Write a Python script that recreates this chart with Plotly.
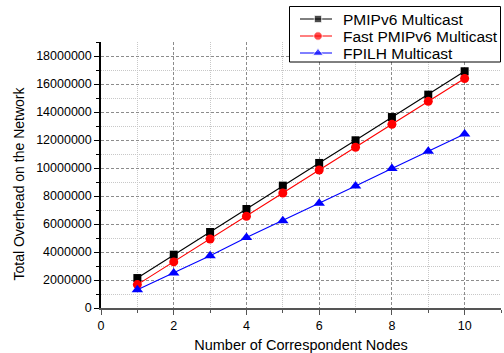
import plotly.graph_objects as go

x_nodes = [1, 2, 3, 4, 5, 6, 7, 8, 9, 10]
pmipv6 = [2140000, 3810000, 5430000, 7070000, 8740000, 10360000, 11980000, 13640000, 15240000, 16910000]
fast_pmipv6 = [1670000, 3290000, 4930000, 6550000, 8210000, 9860000, 11480000, 13120000, 14760000, 16390000]
fpilh = [1310000, 2500000, 3740000, 5030000, 6240000, 7480000, 8710000, 9960000, 11190000, 12430000]

names = ["PMIPv6 Multicast", "Fast PMIPv6 Multicast", "FPILH Multicast"]
colors = ["#000000", "#ff0000", "#0000ff"]
symbols = ["square", "circle", "triangle-up"]
msizes = [8, 9, 10]
leg_msizes = [7.5, 8.5, 9.5]

x_ticks = [0, 2, 4, 6, 8, 10]
x_minor = [1, 3, 5, 7, 9, 11]
y_ticks = [0, 2000000, 4000000, 6000000, 8000000, 10000000, 12000000, 14000000, 16000000, 18000000]
y_ticklabels = ["0", "2000000", "4000000", "6000000", "8000000", "10000000",
                "12000000", "14000000", "16000000", "18000000"]
y_minor = [1000000, 3000000, 5000000, 7000000, 9000000, 11000000, 13000000, 15000000, 17000000, 19000000]

FONT = "Liberation Sans, Arial, sans-serif"

W, H = 504, 353
ML, MR, MT, MB = 101, 3, 5, 45
PLOT_TOP = 42  # top of the data area in pixels
PW, PH = W - ML - MR, H - MT - MB


def px(xp):
    return (xp - ML) / PW


def py(yp):
    return (H - MB - yp) / PH


fig = go.Figure()
for name, ys, c, s, ms in zip(names, [pmipv6, fast_pmipv6, fpilh], colors, symbols, msizes):
    fig.add_trace(go.Scatter(
        x=x_nodes, y=ys, name=name, mode="lines+markers",
        line=dict(color=c, width=1.1),
        marker=dict(symbol=s, color=c, size=ms),
        showlegend=False,
    ))

# custom legend drawn on a transparent full-size helper subplot
leg_x0, leg_x1, leg_y0, leg_y1 = 289.5, 500.5, 6.5, 62
rows = [19, 36, 53]
line_x0, line_x1, mark_x, text_x = 300, 332, 318, 341

shapes = [
    dict(type="rect", xref="x2", yref="y2", layer="between",
         x0=px(leg_x0), x1=px(leg_x1), y0=py(leg_y1), y1=py(leg_y0),
         fillcolor="white", line=dict(color="#000000", width=1)),
]
annotations = []
for name, c, s, ms, ry in zip(names, colors, symbols, leg_msizes, rows):
    fig.add_trace(go.Scatter(
        x=[px(line_x0), px(mark_x), px(line_x1)], y=[py(ry)] * 3,
        mode="lines+markers", xaxis="x2", yaxis="y2",
        line=dict(color=c, width=1),
        marker=dict(symbol=s, color=c, size=[0, ms, 0]),
        showlegend=False, hoverinfo="skip",
    ))
    annotations.append(dict(
        xref="paper", yref="paper", x=px(text_x), y=py(ry), xanchor="left", yanchor="middle",
        text=name, showarrow=False, font=dict(family=FONT, size=15.5, color="#000000"),
    ))

annotations.append(dict(
    xref="paper", yref="paper", x=px(18.5), y=py(184), xanchor="center", yanchor="middle",
    text="Total Overhead on the Network", textangle=-90, showarrow=False,
    font=dict(family=FONT, size=14, color="#000000"),
))

fig.update_layout(
    width=W, height=H,
    margin=dict(l=ML, r=MR, t=MT, b=MB),
    paper_bgcolor="white", plot_bgcolor="rgba(0,0,0,0)",
    font=dict(family=FONT, size=12.5, color="#000000"),
    showlegend=False,
    shapes=shapes,
    annotations=annotations,
    xaxis=dict(
        domain=[0, 1], anchor="y",
        range=[0, 11], tickmode="array", tickvals=x_ticks,
        ticks="outside", ticklen=5, tickcolor="#555555",
        showline=True, linecolor="#555555", linewidth=2,
        showgrid=True, gridcolor="#8c8c8c", gridwidth=1, griddash="3px,2px",
        zeroline=False,
        minor=dict(tickvals=x_minor, ticks="outside", ticklen=3, tickcolor="#555555",
                   showgrid=True, gridcolor="#c8c8c8", griddash="1px,1px", gridwidth=1),
        title=dict(text="Number of Correspondent Nodes", font=dict(family=FONT, size=14.5), standoff=8),
        tickfont=dict(family=FONT, size=12.5),
    ),
    yaxis=dict(
        domain=[0, (H - MB - PLOT_TOP) / PH], anchor="x",
        range=[0, 19000000], tickmode="array",
        tickvals=y_ticks, ticktext=y_ticklabels,
        ticks="outside", ticklen=5, tickcolor="#000000",
        showline=True, linecolor="#000000", linewidth=1.5,
        showgrid=True, gridcolor="#8c8c8c", gridwidth=1, griddash="3px,2px",
        zeroline=False,
        minor=dict(tickvals=y_minor, ticks="outside", ticklen=3, tickcolor="#000000",
                   showgrid=True, gridcolor="#c8c8c8", griddash="1px,1px", gridwidth=1),
        tickfont=dict(family=FONT, size=12.5),
    ),
    xaxis2=dict(domain=[0, 1], anchor="y2", range=[0, 1], visible=False, fixedrange=True),
    yaxis2=dict(domain=[0, 1], anchor="x2", range=[0, 1], visible=False, fixedrange=True),
)

fig.write_html("out.html")
